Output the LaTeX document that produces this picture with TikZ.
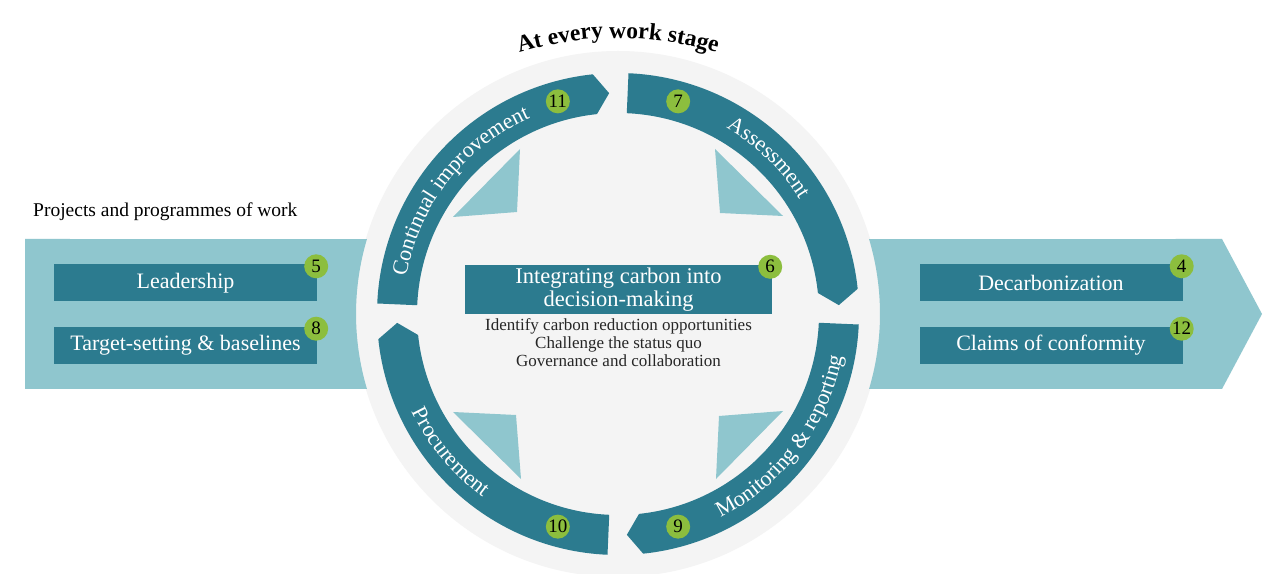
\documentclass[tikz,border=0pt]{standalone}
\usepackage{fontspec}
\setmainfont{Liberation Serif}
\usetikzlibrary{positioning,calc,decorations.text}

\definecolor{ringcol}{HTML}{2C7B8F}
\definecolor{lightcol}{HTML}{8FC6CE}
\definecolor{badgecol}{HTML}{8CBE3E}
\definecolor{bgcol}{HTML}{F4F4F4}

\newcommand\bigtxt{\fontsize{22}{24}\selectfont}
\newcommand\smalltxt{\fontsize{17}{18}\selectfont}
\newcommand\numtxt{\fontsize{19}{20}\selectfont}
\newcommand\headtxt{\fontsize{23.5}{25}\selectfont}
\newcommand\titletxt{\fontsize{19.5}{21}\selectfont}

\begin{document}
\begin{tikzpicture}[x=1pt,y=1pt]
        \tikzstyle{box}=[fill=ringcol,text=white,font=\bigtxt,minimum width=263pt,minimum height=37pt,inner sep=0pt]
        \tikzstyle{badge}=[circle,fill=badgecol,text=black,font=\numtxt,minimum size=24pt,inner sep=0pt]
        \tikzstyle{band}=[fill=lightcol]
        \tikzstyle{seg}=[fill=ringcol]
        \tikzstyle{wake}=[fill=lightcol]

        \edef\rout{241pt}
        \edef\rin{201pt}
        \edef\rmid{221pt}

        \path[use as bounding box,fill=white] (0,0) rectangle (1263,573);
        \coordinate (c) at (618,259);
        \coordinate (tc) at (618,202);

        % backdrop and the two bands
        \fill[bgcol] (c) circle[radius=263pt];
        \fill[band] (25,334) -- ($(c)+(163.37:262)$) arc[start angle=163.37,end angle=196.63,radius=262pt] -- (25,184) -- cycle;
        \fill[band] (1222,334) -- (1262,259) -- (1222,184) -- ($(c)+(-16.63:262)$) arc[start angle=-16.63,end angle=16.63,radius=262pt] -- cycle;

        \node[anchor=west,font=\titletxt,inner sep=0pt] (proj) at (33,361) {Projects and programmes of work};

        % boxes on the bands
        \node[box] (lead) at (185.5,290) {Leadership};
        \node[box,below=25pt of lead] (target) {Target-setting \& baselines};
        \node[box] (decarb) at (1051,290) {Decarbonization};
        \node[box,below=25pt of decarb] (claims) {Claims of conformity};

        \node[badge] (n5) at ([xshift=-1pt,yshift=-2pt]lead.north east) {5};
        \node[badge] (n8) at ([xshift=-1pt,yshift=-2pt]target.north east) {8};
        \node[badge] (n4) at ([xshift=-1pt,yshift=-2pt]decarb.north east) {4};
        \node[badge] (n12) at ([xshift=-1pt,yshift=-2pt]claims.north east) {12};

        % ring of four stages
        \begin{scope}[shift={(c)}]
        \foreach \s in {177.5,87.5,-2.5,-92.5} {
            \fill[seg] (\s:\rout) arc[start angle=\s,delta angle=-81.5,radius=\rout]
                -- (\s-85.2:\rmid) -- (\s-81.5:\rin)
                arc[start angle=\s-81.5,delta angle=81.5,radius=\rin] -- cycle;
        };
        \foreach \r in {0,-90,-180,-270}
            \fill[wake,rotate=\r] (-98,165) -- (-101,102) -- (-165,97) -- cycle;

        \node[badge] (n11) at (105.8:\rmid) {11};
        \node[badge] (n7) at (74.2:\rmid) {7};
        \node[badge] (n9) at (-74.2:\rmid) {9};
        \node[badge] (n10) at (-105.8:\rmid) {10};

        \path[decorate,decoration={text along path,text align=center,
            text={|\color{white}\bigtxt|Continual improvement}}]
            (177:215pt) arc[start angle=177,end angle=107,radius=215pt];
        \path[decorate,decoration={text along path,text align=center,
            text={|\color{white}\bigtxt|Assessment}}]
            (80:215pt) arc[start angle=80,end angle=12,radius=215pt];
        \path[decorate,decoration={text along path,text align=center,
            text={|\color{white}\bigtxt|Monitoring {\&} reporting}}]
            (-77:228pt) arc[start angle=-77,end angle=3,radius=228pt];
        \path[decorate,decoration={text along path,text align=center,
            text={|\color{white}\bigtxt|Procurement}}]
            (-175.5:228pt) arc[start angle=-175.5,end angle=-105.5,radius=228pt];
        \end{scope}

        \path[decorate,decoration={text along path,text align=center,
            text={|\bfseries\headtxt|At every work stage}}]
            ([shift={(110:333)}]tc) arc[start angle=110,end angle=70,radius=333pt];

        % centre
        \node[box,minimum width=307pt,minimum height=49pt,align=center,font=\fontsize{22.5}{23.5}\selectfont] (integ) at (618.5,283.5) {Integrating carbon into\\decision-making};
        \node[badge] (n6) at ([xshift=-2pt,yshift=-2pt]integ.north east) {6};
        \node[below=4pt of integ,align=center,font=\smalltxt,text=black!85,inner sep=0pt] (tasks) {Identify carbon reduction opportunities\\Challenge the status quo\\Governance and collaboration};
\end{tikzpicture}
\end{document}
